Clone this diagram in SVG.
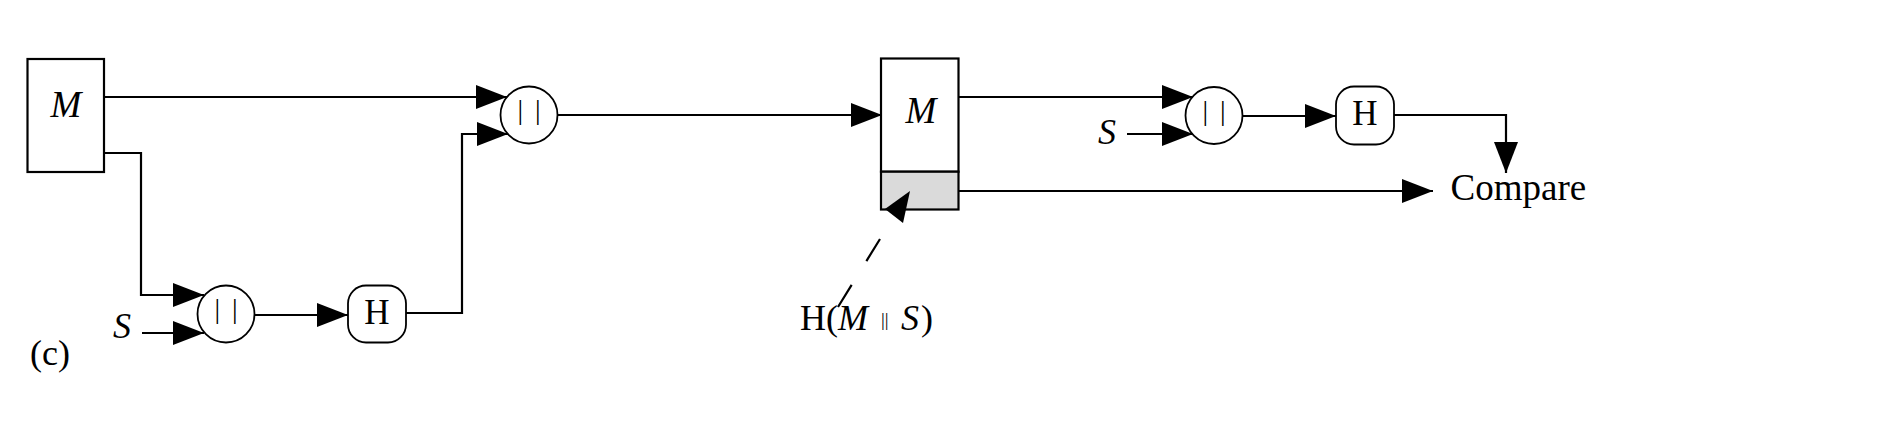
<svg xmlns="http://www.w3.org/2000/svg" width="1878" height="444" viewBox="0 0 1878 444">
<style>
  .box { fill: #ffffff; stroke: #000000; stroke-width: 2.2; }
  .gray { fill: #dadada; stroke: #000000; stroke-width: 2.2; }
  .circ { fill: #ffffff; stroke: #000000; stroke-width: 1.8; }
  .hnode { fill: #ffffff; stroke: #000000; stroke-width: 1.8; }
  .ln { fill: none; stroke: #000000; stroke-width: 2.2; }
  .dash { fill: none; stroke: #000000; stroke-width: 2.2; stroke-dasharray: 26 28; }
  .t { font-family: "Liberation Serif", "Times New Roman", serif; fill: #000000; }
  .it { font-style: italic; }
  .lbl { font-size: 36px; }
  .mm { font-size: 37px; font-style: italic; }
  .hh { font-size: 35px; }
  .bars { font-size: 28px; word-spacing: 5px; }
</style>
<defs>
  <marker id="arr" markerUnits="userSpaceOnUse" markerWidth="31" markerHeight="24" refX="31" refY="12" orient="auto">
    <path d="M0,0 L31,12 L0,24 Z" fill="#000000"/>
  </marker>
</defs>

<g id="node-m1">
  <rect class="box" x="27.5" y="59" width="76.5" height="113"/>
  <text class="t mm" x="66" y="117" text-anchor="middle">M</text>
</g>

<g id="node-concat1">
  <circle class="circ" cx="529" cy="115" r="28.5"/>
  <text class="t bars" x="529" y="119" text-anchor="middle">| |</text>
</g>

<g id="node-concat2">
  <circle class="circ" cx="226" cy="314" r="28.5"/>
  <text class="t bars" x="226" y="318" text-anchor="middle">| |</text>
</g>

<g id="node-h2">
  <rect class="hnode" x="348" y="285.5" width="58" height="57" rx="18"/>
  <text class="t hh" x="377" y="323.5" text-anchor="middle">H</text>
</g>

<g id="node-s1">
  <text class="t lbl it" x="113" y="337.5">S</text>
</g>

<g id="node-m2">
  <rect class="box" x="881" y="58.5" width="77.5" height="113.2"/>
  <rect class="gray" x="881" y="171.7" width="77.5" height="37.8"/>
  <text class="t mm" x="921" y="123.3" text-anchor="middle">M</text>
</g>

<g id="node-hash-label">
  <text class="t lbl" y="330"><tspan x="800">H</tspan><tspan x="826">(</tspan><tspan x="838" class="it">M</tspan><tspan x="881" y="326" style="font-size:19px">||</tspan><tspan x="901" y="330" class="it">S</tspan><tspan x="921">)</tspan></text>
</g>

<g id="node-concat3">
  <circle class="circ" cx="1214" cy="115.5" r="28.5"/>
  <text class="t bars" x="1214" y="119.5" text-anchor="middle">| |</text>
</g>

<g id="node-s3">
  <text class="t lbl it" x="1098" y="144">S</text>
</g>

<g id="node-h3">
  <rect class="hnode" x="1336" y="86.5" width="58" height="58" rx="18"/>
  <text class="t hh" x="1365" y="125" text-anchor="middle">H</text>
</g>

<g id="node-compare">
  <text class="t lbl" x="1450.5" y="199.5" style="font-size:37px">Compare</text>
</g>

<g id="node-c">
  <text class="t lbl" x="30" y="365">(c)</text>
</g>

<g id="connectors">
  <path class="ln" d="M104,97 H507" marker-end="url(#arr)"/>
  <path class="ln" d="M104,153 H141 V295 H204" marker-end="url(#arr)"/>
  <path class="ln" d="M142,333 H204" marker-end="url(#arr)"/>
  <path class="ln" d="M255,315 H348" marker-end="url(#arr)"/>
  <path class="ln" d="M406,313 H462 V134 H508" marker-end="url(#arr)"/>
  <path class="ln" d="M557,115 H882" marker-end="url(#arr)"/>
  <path class="ln" d="M959,97 H1193" marker-end="url(#arr)"/>
  <path class="ln" d="M1127,134 H1193" marker-end="url(#arr)"/>
  <path class="ln" d="M1243,116 H1336" marker-end="url(#arr)"/>
  <path class="ln" d="M1394,115 H1506 V173" marker-end="url(#arr)"/>
  <path class="ln" d="M959,191 H1433" marker-end="url(#arr)"/>
  <path class="dash" d="M838,307 L880,239"/>
  <polygon points="885,209 910,191 903,223" fill="#000000"/>
</g>
</svg>
